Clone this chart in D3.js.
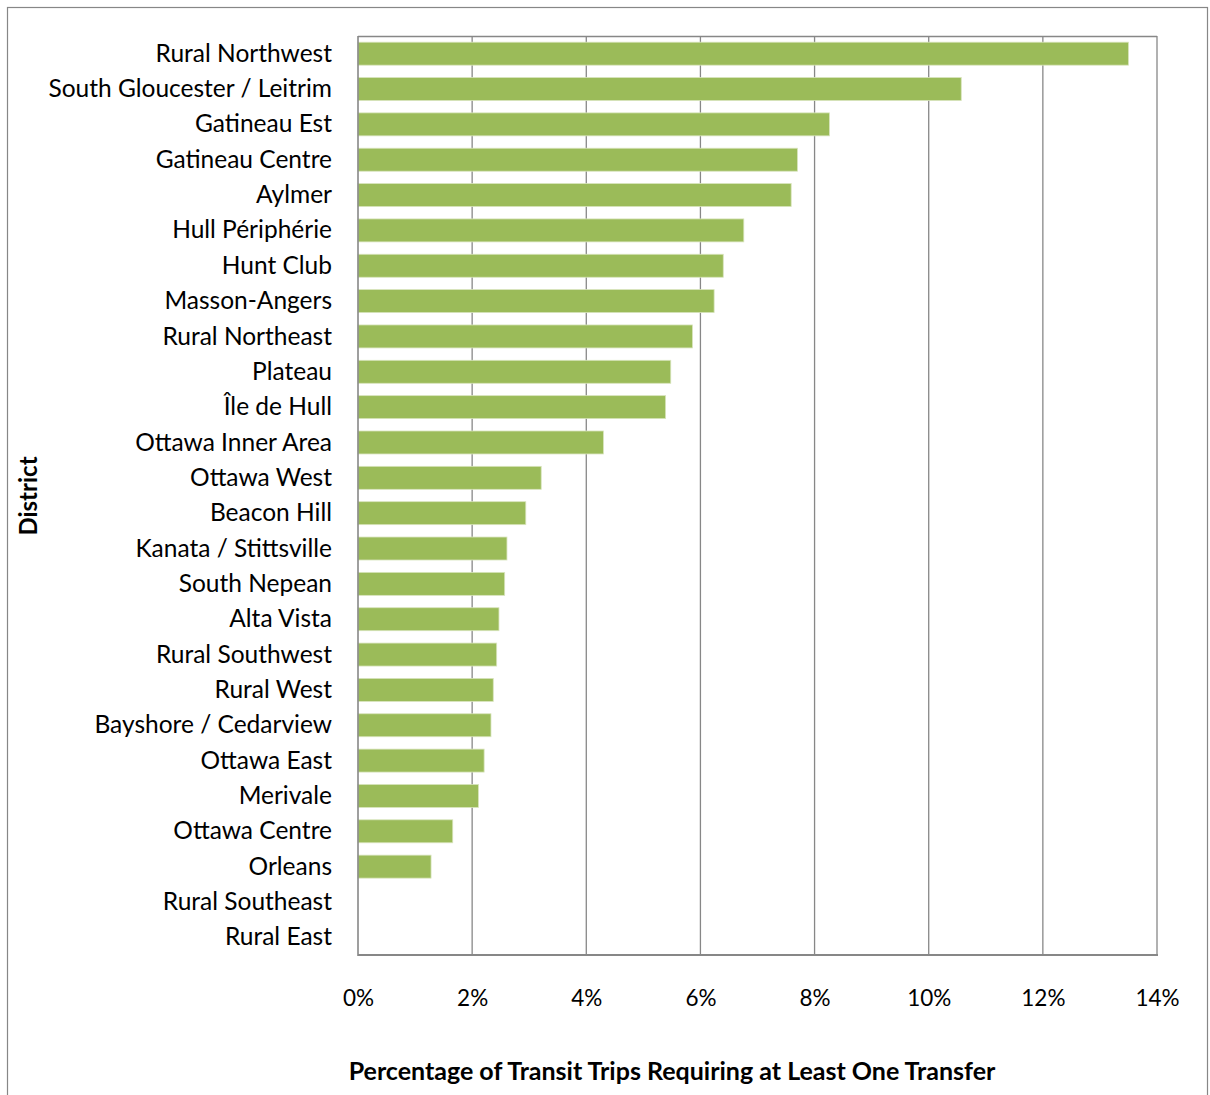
<!DOCTYPE html>
<html><head><meta charset="utf-8">
<script src="https://cdn.jsdelivr.net/npm/d3@7"></script>
<style>body{margin:0;background:#fff;} svg{display:block;}</style>
</head><body>
<svg id="chart" width="1210" height="1095"></svg>
<script>
const districts = ["Rural Northwest","South Gloucester / Leitrim","Gatineau Est","Gatineau Centre","Aylmer","Hull Périphérie","Hunt Club","Masson-Angers","Rural Northeast","Plateau","Île de Hull","Ottawa Inner Area","Ottawa West","Beacon Hill","Kanata / Stittsville","South Nepean","Alta Vista","Rural Southwest","Rural West","Bayshore / Cedarview","Ottawa East","Merivale","Ottawa Centre","Orleans","Rural Southeast","Rural East"];
const transferPct = [13.5,10.57,8.26,7.70,7.59,6.76,6.40,6.24,5.86,5.48,5.39,4.30,3.21,2.94,2.61,2.57,2.47,2.43,2.37,2.33,2.21,2.11,1.66,1.28,0,0];
const xTicks = [0,2,4,6,8,10,12,14];
const xTitle = "Percentage of Transit Trips Requiring at Least One Transfer";
const yTitle = "District";

const svg = d3.select("#chart");
const font = "Lato, 'Open Sans', sans-serif";
const L = 358, R = 1157, T = 36, B = 955;
const grey = "#878787";

// outer frame
svg.append("rect").attr("x",7.5).attr("y",7.5).attr("width",1200).attr("height",1100)
  .attr("fill","#fff").attr("stroke",grey).attr("stroke-width",1.2);

const x = d3.scaleLinear().domain([0,14]).range([L,R]);
const y = d3.scaleBand().domain(districts).range([T,B]).paddingInner(0.35).paddingOuter(0.175);

// gridlines
svg.append("g").selectAll("line").data(xTicks.slice(1)).join("line")
  .attr("x1",d=>x(d)).attr("x2",d=>x(d)).attr("y1",T).attr("y2",B)
  .attr("stroke",grey).attr("stroke-width",1.3);
svg.append("line").attr("x1",L).attr("x2",R).attr("y1",T+0.5).attr("y2",T+0.5)
  .attr("stroke",grey).attr("stroke-width",1.3);

// bars
svg.append("g").selectAll("rect").data(districts).join("rect")
  .attr("x",x(0)).attr("y",(d)=>y(d))
  .attr("width",(d,i)=>x(transferPct[i])-x(0))
  .attr("height",y.bandwidth())
  .attr("fill","#9bbb59")
  .attr("stroke",(d,i)=>transferPct[i]>0?"#d8e4bc":"none").attr("stroke-width",0.8);

// axes lines
svg.append("line").attr("x1",L).attr("x2",L).attr("y1",T).attr("y2",B+1)
  .attr("stroke",grey).attr("stroke-width",1.6);
svg.append("line").attr("x1",L).attr("x2",R+1).attr("y1",B).attr("y2",B)
  .attr("stroke",grey).attr("stroke-width",1.8);

// y axis labels
const yAxis = d3.axisLeft(y).tickSize(0).tickPadding(26);
const gy = svg.append("g").attr("transform",`translate(${L},0)`).call(yAxis);
gy.select(".domain").remove();
gy.selectAll("text").attr("font-family",font).attr("font-size",24.5).attr("fill","#000").attr("dy","0.33em");

// x axis labels
const xAxis = d3.axisBottom(x).tickValues(xTicks).tickFormat(d=>d+"%").tickSize(0).tickPadding(35);
const gx = svg.append("g").attr("transform",`translate(0,${B})`).call(xAxis);
gx.select(".domain").remove();
gx.selectAll("text").attr("font-family",font).attr("font-size",22.5).attr("fill","#000");

// titles
svg.append("text").attr("x",672).attr("y",1080).attr("text-anchor","middle")
  .attr("font-family",font).attr("font-weight","bold").attr("font-size",25).text(xTitle);
svg.append("text").attr("transform","translate(37,496) rotate(-90)").attr("text-anchor","middle")
  .attr("font-family",font).attr("font-weight","bold").attr("font-size",24).text(yTitle);
</script>
</body></html>
